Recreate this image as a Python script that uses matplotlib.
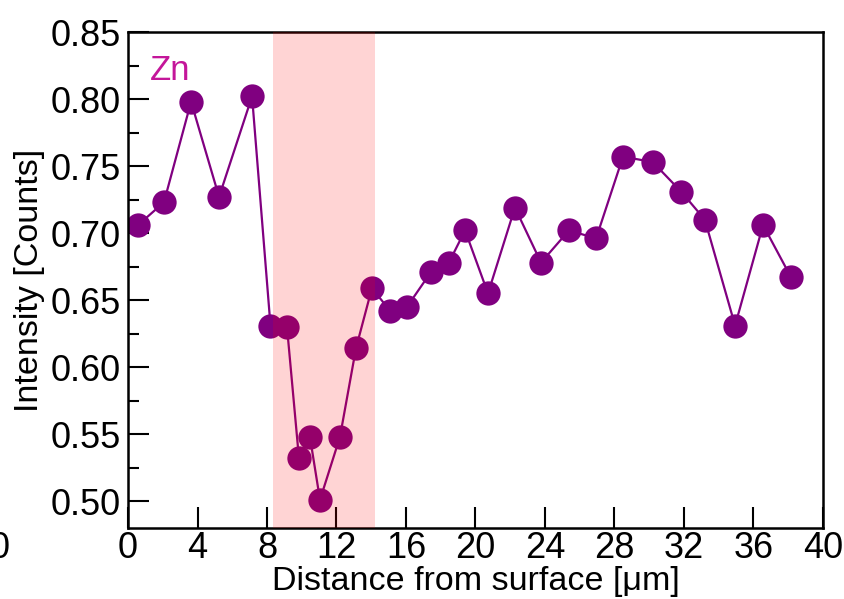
import matplotlib
matplotlib.use("Agg")
import matplotlib.pyplot as plt
from matplotlib.ticker import MultipleLocator

plt.rcParams['font.family'] = ['Liberation Sans', 'DejaVu Sans']

distance = [0.58, 2.07, 3.63, 5.24, 7.14, 8.2, 9.15, 9.84, 10.47, 11.05,
            12.2, 13.12, 14.04, 15.08, 16.06, 17.44, 18.47, 19.4, 20.72, 22.27,
            23.77, 25.38, 26.94, 28.49, 30.2, 31.83, 33.2, 34.94, 36.55, 38.16]
intensity = [0.706, 0.723, 0.798, 0.727, 0.802, 0.631, 0.630, 0.532, 0.548, 0.501,
             0.548, 0.614, 0.659, 0.642, 0.645, 0.671, 0.678, 0.702, 0.655, 0.719,
             0.678, 0.702, 0.696, 0.757, 0.753, 0.731, 0.710, 0.631, 0.706, 0.667]
band = [8.35, 14.2]
label = "Zn"
xticks = list(range(0, 41, 4))
yticks = [0.50, 0.55, 0.60, 0.65, 0.70, 0.75, 0.80, 0.85]

fig = plt.figure(figsize=(8.45, 5.99), dpi=100)
ax = fig.add_axes([128/845, 1-528/599, (823-128)/845, (528-32)/599])

ax.plot(distance, intensity, '-o', color='#800080', lw=1.6, markersize=17.5,
        markeredgewidth=0, zorder=2)
ax.axvspan(band[0], band[1], color='red', alpha=0.17, lw=0, zorder=3)

ax.set_xlim(0, 40)
ax.set_ylim(0.48, 0.85)
ax.set_xticks(xticks)
ax.set_yticks(yticks)
ax.set_yticklabels([f"{v:.2f}" for v in yticks])
ax.yaxis.set_minor_locator(MultipleLocator(0.025))

ax.tick_params(axis='both', which='major', direction='in', length=15, width=1.5,
               labelsize=26, colors='black')
ax.tick_params(axis='y', which='minor', direction='in', length=8, width=1.5)
ax.tick_params(axis='x', pad=2)
ax.tick_params(axis='y', pad=5)
for s in ax.spines.values():
    s.set_linewidth(1.8)

ax.set_xlabel("Distance from surface [μm]", fontsize=24.5, labelpad=0)
ax.set_ylabel("Intensity [Counts]", fontsize=24.5, labelpad=4)

ax.text(1.25, 0.821, label, color='#C4169A', fontsize=25, va='center', ha='left')

fig.text(10/845, 1-548/599, "0", fontsize=26, ha='right', va='center')

fig.savefig("out.png", dpi=100)
